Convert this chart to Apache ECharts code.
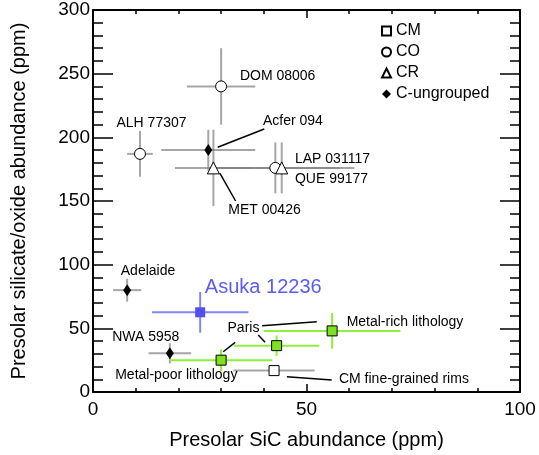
<!DOCTYPE html>
<html>
<head>
<meta charset="utf-8">
<script src="https://cdn.jsdelivr.net/npm/echarts@6/dist/echarts.min.js"></script>
<style>
	html, body { margin: 0; padding: 0; background: #fff; }
	#chart { width: 539px; height: 455px; }
</style>
</head>
<body>
<div id="chart"></div>
<script>
	// values: x = SiC (ppm), y = silicate/oxide (ppm), with 1-sigma errors
	var coNames = ['DOM 08006', 'ALH 77307', 'LAP 031117']
	var coX = [30, 11, 42.7]
	var coY = [240, 187, 176]
	var coXErr = [8, 3, 15]
	var coYErr = [30, 18, 20]

	var crNames = ['MET 00426', 'QUE 99177']
	var crX = [28.2, 44.2]
	var crY = [176, 176]
	var crXErr = [9, 17]
	var crYErr = [30, 20]

	var ungNames = ['Acfer 094', 'Adelaide', 'NWA 5958']
	var ungX = [27, 8, 18]
	var ungY = [190, 80, 30.4]
	var ungXErr = [11, 3.3, 5]
	var ungYErr = [16, 9, 8]

	var cmNames = ['CM fine-grained rims']
	var cmX = [42.4]
	var cmY = [16.8]
	var cmXErr = [9.5]
	var cmYErr = [4]

	var parisNames = ['Metal-poor lithology', 'Paris', 'Metal-rich lithology']
	var parisX = [30, 43, 56]
	var parisY = [25, 36.4, 48]
	var parisXErr = [12, 10, 16]
	var parisYErr = [8.5, 8, 14]

	var asukaNames = ['Asuka 12236']
	var asukaX = [25.1]
	var asukaY = [62.6]
	var asukaXErr = [11.3]
	var asukaYErr = [16]

	// text labels (left edge, middle) and leader lines, in data units
	var labelText = ['DOM 08006', 'ALH 77307', 'Acfer 094', 'LAP 031117', 'QUE 99177', 'MET 00426',
		'Adelaide', 'NWA 5958', 'Paris', 'Metal-rich lithology', 'Metal-poor lithology', 'CM fine-grained rims']
	var labelX = [34.4, 5.5, 39.8, 47.3, 47.3, 31.7, 6.5, 4.5, 31.5, 59.4, 5.2, 57.6]
	var labelY = [248, 211, 213, 183, 167, 143, 95, 43, 50.5, 54.7, 13.4, 10]
	var asukaLabelX = 26.2
	var asukaLabelY = 81.7
	var leaders = [
		[29.2, 192.2, 40.1, 206.5],
		[29.7, 171.8, 33.4, 150.0],
		[30.5, 31.6, 33.3, 39.0],
		[38.7, 44.8, 40.3, 39.0],
		[39.6, 52.1, 52.4, 55.2],
		[45.4, 12.0, 55.9, 9.4]
	]

	var font = "'Liberation Sans', Arial, sans-serif"

	function pts(xs, ys) {
		return xs.map(function (x, i) { return [x, ys[i]] })
	}
	function bars(xs, ys, exs, eys) {
		return xs.map(function (x, i) { return [x, ys[i], exs[i], eys[i]] })
	}

	function renderBars(params, api) {
		var x = api.value(0), y = api.value(1), ex = api.value(2), ey = api.value(3)
		var l = api.coord([x - ex, y]), r = api.coord([x + ex, y])
		var b = api.coord([x, y - ey]), t = api.coord([x, y + ey])
		var c = api.visual('color')
		return {
			type: 'group',
			children: [
				{ type: 'line', shape: { x1: l[0], y1: l[1], x2: r[0], y2: r[1] }, style: { stroke: c, lineWidth: 2 } },
				{ type: 'line', shape: { x1: b[0], y1: b[1], x2: t[0], y2: t[1] }, style: { stroke: c, lineWidth: 2 } }
			]
		}
	}

	function barSeries(data, color) {
		return {
			type: 'custom',
			renderItem: renderBars,
			data: data,
			itemStyle: { color: color },
			z: 1,
			silent: true
		}
	}

	function renderLabels(params, api) {
		var p = api.coord([api.value(0), api.value(1)])
		return {
			type: 'text',
			x: p[0],
			y: p[1],
			style: {
				text: labelText[params.dataIndex],
				fill: '#000',
				font: '14px ' + font,
				align: 'left',
				verticalAlign: 'middle'
			}
		}
	}

	function renderLeaders(params, api) {
		var a = api.coord([api.value(0), api.value(1)])
		var b = api.coord([api.value(2), api.value(3)])
		return {
			type: 'line',
			shape: { x1: a[0], y1: a[1], x2: b[0], y2: b[1] },
			style: { stroke: '#000', lineWidth: 1.5 }
		}
	}

	function axisX(pos, showLabel) {
		return {
			type: 'value',
			position: pos,
			min: 0,
			max: 100,
			interval: 50,
			name: showLabel ? 'Presolar SiC abundance (ppm)' : '',
			nameLocation: 'middle',
			nameGap: 38,
			nameTextStyle: { color: '#000', fontSize: 20, fontFamily: font },
			axisLine: { show: true, onZero: false, lineStyle: { color: '#000', width: 2 } },
			axisTick: { show: true, inside: true, length: 8, lineStyle: { color: '#000', width: 1.5 } },
			minorTick: { show: true, splitNumber: 5, length: 4, lineStyle: { color: '#000', width: 1.5 } },
			axisLabel: { show: showLabel, color: '#000', fontSize: 19, fontFamily: font, margin: 8 },
			splitLine: { show: false }
		}
	}

	function axisY(pos, showLabel) {
		return {
			type: 'value',
			position: pos,
			min: 0,
			max: 300,
			interval: 50,
			name: showLabel ? 'Presolar silicate/oxide abundance (ppm)' : '',
			nameLocation: 'middle',
			nameGap: 64,
			nameTextStyle: { color: '#000', fontSize: 20, fontFamily: font },
			axisLine: { show: true, onZero: false, lineStyle: { color: '#000', width: 2 } },
			axisTick: { show: true, inside: true, length: 20, lineStyle: { color: '#000', width: 1.5 } },
			minorTick: { show: true, splitNumber: 5, length: 10, lineStyle: { color: '#000', width: 1.5 } },
			axisLabel: { show: showLabel, color: '#000', fontSize: 19, fontFamily: font, margin: 3 },
			splitLine: { show: false }
		}
	}

	var myChart = echarts.init(document.getElementById('chart'))
	var option = {
		animation: false,
		backgroundColor: '#fff',
		grid: { left: 93, right: 19, top: 10, bottom: 63 },
		legend: {
			data: ['CM', 'CO', 'CR', 'C-ungrouped'],
			orient: 'vertical',
			left: 381,
			top: 23,
			padding: 0,
			itemWidth: 9,
			itemHeight: 9,
			itemGap: 5,
			textStyle: { color: '#000', fontSize: 16, fontFamily: font }
		},
		xAxis: [axisX('bottom', true), axisX('top', false)],
		yAxis: [axisY('left', true), axisY('right', false)],
		series: [
			barSeries(bars(coX, coY, coXErr, coYErr), 'rgba(128,128,128,0.7)'),
			barSeries(bars(crX, crY, crXErr, crYErr), 'rgba(128,128,128,0.7)'),
			barSeries(bars(ungX, ungY, ungXErr, ungYErr), 'rgba(128,128,128,0.7)'),
			barSeries(bars(cmX, cmY, cmXErr, cmYErr), 'rgba(128,128,128,0.7)'),
			barSeries(bars(parisX, parisY, parisXErr, parisYErr), '#8fef3a'),
			barSeries(bars(asukaX, asukaY, asukaXErr, asukaYErr), '#8484f2'),
			{
				type: 'custom',
				renderItem: renderLeaders,
				data: leaders,
				z: 2,
				silent: true
			},
			{
				type: 'custom',
				renderItem: renderLabels,
				data: pts(labelX, labelY),
				z: 3,
				silent: true
			},
			{
				type: 'custom',
				renderItem: function (params, api) {
					var p = api.coord([api.value(0), api.value(1)])
					return {
						type: 'text', x: p[0], y: p[1],
						style: { text: asukaNames[0], fill: '#5b5bf5', font: '20px ' + font, align: 'left', verticalAlign: 'middle' }
					}
				},
				data: [[asukaLabelX, asukaLabelY]],
				z: 3,
				silent: true
			},
			{
				name: 'CM',
				type: 'scatter',
				symbol: 'rect',
				symbolSize: 10,
				data: pts(cmX, cmY),
				itemStyle: { color: '#fff', borderColor: '#000', borderWidth: 1, opacity: 1 },
				z: 5
			},
			{
				name: 'CO',
				type: 'scatter',
				symbol: 'circle',
				symbolSize: 11,
				data: pts(coX, coY),
				itemStyle: { color: '#fff', borderColor: '#000', borderWidth: 1, opacity: 1 },
				z: 5
			},
			{
				name: 'CR',
				type: 'scatter',
				symbol: 'triangle',
				symbolSize: 12,
				data: pts(crX, crY),
				itemStyle: { color: '#fff', borderColor: '#000', borderWidth: 1, opacity: 1 },
				z: 5
			},
			{
				name: 'C-ungrouped',
				type: 'scatter',
				symbol: 'diamond',
				symbolSize: [8, 12],
				data: pts(ungX, ungY),
				itemStyle: { color: '#000', opacity: 1 },
				z: 5
			},
			{
				name: 'Paris',
				type: 'scatter',
				symbol: 'rect',
				symbolSize: 10,
				data: pts(parisX, parisY),
				itemStyle: { color: '#7fe022', borderColor: '#000', borderWidth: 1, opacity: 1 },
				z: 5
			},
			{
				name: 'Asuka 12236',
				type: 'scatter',
				symbol: 'rect',
				symbolSize: 10,
				data: pts(asukaX, asukaY),
				itemStyle: { color: '#5050f0', opacity: 1 },
				z: 5
			}
		]
	}
	myChart.setOption(option)
</script>
</body>
</html>
